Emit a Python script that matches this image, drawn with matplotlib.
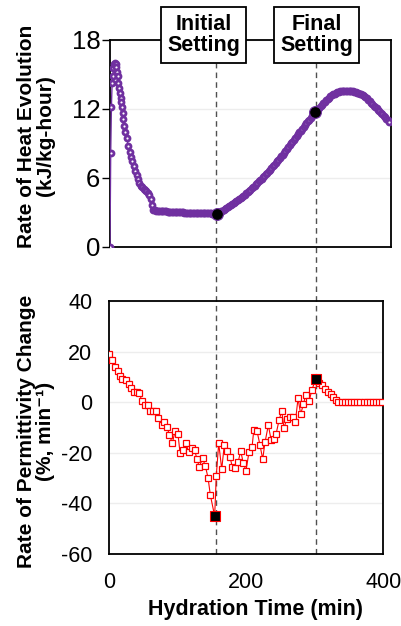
import matplotlib
matplotlib.use('Agg')
import matplotlib.pyplot as plt
from matplotlib.transforms import blended_transform_factory

plt.rcParams['font.family'] = ['Liberation Sans', 'DejaVu Sans']
plt.rcParams['axes.unicode_minus'] = False

# ---------------- data ----------------
heat_time = list(range(0, 21)) + list(range(22, 399, 2))
heat_rate = [
    0.0, 8.1, 12.1, 14.2, 14.8, 15.5, 15.9, 16.0, 15.9, 15.6,
    15.2, 14.8, 14.2, 13.75, 13.35, 12.95, 12.55, 12.1, 11.6, 11.05, 10.5,
    9.95, 9.4, 8.75, 8.25, 7.8, 7.4, 7.0, 6.6, 6.2, 5.85,
    5.55, 5.3, 5.15, 5.0, 4.9, 4.8, 4.65, 4.45, 4.1, 3.6,
    3.2, 3.15, 3.12, 3.1, 3.09, 3.08, 3.07, 3.06, 3.05, 3.05,
    3.04, 3.03, 3.03, 3.02, 3.01, 3.0, 2.99, 2.99, 2.98, 2.97,
    2.97, 2.96, 2.95, 2.95, 2.94, 2.94, 2.93, 2.93, 2.92, 2.92,
    2.91, 2.91, 2.9, 2.9, 2.9, 2.89, 2.89, 2.89, 2.88, 2.88,
    2.88, 2.88, 2.87, 2.87, 2.87, 2.88, 2.92, 2.98, 3.05, 3.12,
    3.19, 3.26, 3.34, 3.42, 3.50, 3.58, 3.67, 3.76, 3.85, 3.94,
    4.03, 4.12, 4.22, 4.32, 4.42, 4.52, 4.62, 4.73, 4.84, 4.95,
    5.06, 5.18, 5.30, 5.42, 5.54, 5.66, 5.78, 5.90, 6.02, 6.14,
    6.27, 6.41, 6.55, 6.69, 6.83, 6.97, 7.11, 7.25, 7.40, 7.55,
    7.70, 7.85, 8.00, 8.16, 8.32, 8.48, 8.64, 8.80, 8.96, 9.12,
    9.28, 9.44, 9.60, 9.76, 9.92, 10.08, 10.24, 10.40, 10.56, 10.72,
    10.88, 11.04, 11.20, 11.36, 11.51, 11.66, 11.80, 11.94, 12.08, 12.21,
    12.34, 12.47, 12.60, 12.72, 12.84, 12.95, 13.05, 13.14, 13.22, 13.29,
    13.35, 13.40, 13.44, 13.48, 13.51, 13.53, 13.55, 13.56, 13.56, 13.55,
    13.54, 13.52, 13.49, 13.46, 13.42, 13.38, 13.33, 13.28, 13.23, 13.18,
    13.10, 13.00, 12.88, 12.75, 12.63, 12.50, 12.38, 12.25, 12.13, 12.02,
    11.88, 11.75, 11.62, 11.50, 11.37, 11.25, 11.12, 10.96, 10.80,
]
heat_set_time = [152, 292]
heat_set_rate = [2.85, 11.67]

perm_time = [
    0.4, 4.8, 8.3, 12.7, 16, 19.4, 24.3, 28.7, 32, 36,
    40.4, 44.2, 48, 52.5, 56.4, 59.8, 63.7, 68, 71.9, 76.8,
    80.6, 84.5, 88, 92.3, 96.2, 100.6, 103.5, 107.4, 112.2, 116.1,
    121, 124.9, 128.3, 131.6, 136.5, 140.4, 144.3, 147.7, 154, 156.4,
    159.9, 164.3, 168.1, 172.5, 176.4, 179.7, 183.7, 188, 192, 195.8,
    199.7, 204.1, 208.5, 211, 215.7, 220.1, 224, 227.4, 232.2, 236.2,
    240.1, 243.4, 247.8, 251.7, 255.1, 259, 263.4, 267.8, 271.6, 275.5,
    279.4, 283.2, 286.7, 291.5, 295.7, 301, 306, 310.5, 314.9, 318.8,
    323.2, 327, 330.9, 334.3,
    339.5, 344, 348.5, 353, 357.5, 362, 366.5, 371, 375.5, 380,
    384.5, 389, 393.5, 398.5,
]
perm_rate = [
    18.9, 16.8, 14.0, 12.5, 10.4, 9.3, 8.8, 7.2, 5.6, 4.2,
    4.2, 3.6, 0.4, -1.1, -1.1, -3.4, -3.4, -3.4, -6.4, -8.9,
    -7.7, -9.9, -12.8, -16.2, -11.5, -12.7, -20.0, -19.0, -16.2, -19.8,
    -18.1, -19.0, -22.6, -25.5, -22.2, -25.2, -29.8, -36.7, -45.0, -29.0,
    -16.2, -26.5, -16.8, -19.3, -21.7, -25.6, -25.9, -23.8, -19.3, -24.2,
    -27.0, -19.6, -17.7, -11.1, -11.4, -17.0, -22.5, -15.8, -9.1, -14.8,
    -14.4, -12.7, -7.2, -3.4, -10.3, -6.5, -6.0, -6.0, -7.8, 1.5,
    -4.8, -0.8, 2.7, 0.3, 4.8, 9.1, 7.5, 6.6, 5.4, 4.2,
    3.1, 2.1, 0.9, 0.2,
    0, 0, 0, 0, 0, 0, 0, 0, 0, 0,
    0, 0, 0, 0,
]
perm_set_time = [154, 301]
perm_set_rate = [-45.0, 9.1]

setting_time = [155.5, 301.2]
setting_labels = ['Initial\nSetting', 'Final\nSetting']

heat_ticks = [0, 6, 12, 18]
perm_ticks = [-60, -40, -20, 0, 20, 40]
time_ticks = [0, 200, 400]

purple = '#7030A0'

# ---------------- figure ----------------
fig = plt.figure(figsize=(4.02, 6.26), dpi=100)
ax1 = fig.add_axes([0.2736, 0.6062, 0.6983, 0.3307])
ax2 = fig.add_axes([0.2711, 0.1150, 0.6828, 0.4042])
ax1.set_zorder(2)
ax2.set_zorder(1)
ax1.patch.set_visible(False)

# top panel
ax1.plot(heat_time, heat_rate, color=purple, lw=1.0, marker='o', ms=3.6,
         mfc='white', mec=purple, mew=2.0, zorder=3)
ax1.plot(heat_set_time, heat_set_rate, ls='none', marker='o', ms=8.5,
         mfc='black', mec=purple, mew=0.8, zorder=4)
ax1.set_xlim(0, 400)
ax1.set_ylim(0, 18)
ax1.set_yticks(heat_ticks)
ax1.set_xticks([])
ax1.yaxis.grid(True, color='#ededed', lw=1.0)
ax1.set_axisbelow(True)

# bottom panel
ax2.plot(perm_time, perm_rate, color='red', lw=0.8, marker='s', ms=4.3,
         mfc='white', mec='red', mew=0.9, zorder=3)
ax2.plot(perm_set_time, perm_set_rate, ls='none', marker='s', ms=7.5,
         mfc='black', mec='red', mew=0.8, zorder=4)

# dashed setting lines spanning both panels
tr = blended_transform_factory(ax2.transData, fig.transFigure)
for t in setting_time:
    ax2.plot([t, t], [0.115, 0.899], transform=tr, clip_on=False,
             color='#505050', ls=(0, (4, 3)), lw=1.0, zorder=1)

ax2.set_xlim(0, 400)
ax2.set_ylim(-60, 40)
ax2.set_yticks(perm_ticks)
ax2.set_xticks(time_ticks)
ax2.yaxis.grid(True, color='#ededed', lw=1.0)
ax2.set_axisbelow(True)

for ax in (ax1, ax2):
    for s in ax.spines.values():
        s.set_linewidth(1.3)
        s.set_color('black')
ax1.tick_params(axis='y', direction='out', length=5.5, width=1.0,
                labelsize=18.5, pad=1.5)
ax2.tick_params(axis='y', direction='out', length=0, labelsize=15.5, pad=12)
ax2.tick_params(axis='x', length=0, labelsize=15.5, pad=13)

# setting boxes
box_x = [203.5 / 402, 316.5 / 402]
for lbl, bx in zip(setting_labels, box_x):
    fig.text(bx, 1 - 35 / 626, lbl, ha='center', va='center',
             fontsize=15.5, fontweight='bold', linespacing=1.05,
             bbox=dict(boxstyle='square,pad=0.3', fc='white', ec='black', lw=1.3))

# axis labels
fig.text(36 / 402, 1 - 136 / 626, 'Rate of Heat Evolution\n(kJ/kg-hour)',
         rotation=90, ha='center', va='center', fontsize=15,
         fontweight='bold', multialignment='center', linespacing=1.0)
fig.text(36 / 402, 1 - 431 / 626, 'Rate of Permittivity Change\n(%, min\u207b\u00b9)',
         rotation=90, ha='center', va='center', fontsize=15,
         fontweight='bold', multialignment='center', linespacing=1.0)
fig.text(255 / 402, 1 - 609 / 626, 'Hydration Time (min)', ha='center',
         va='center', fontsize=15.5, fontweight='bold')

fig.savefig('out.png', dpi=100)
